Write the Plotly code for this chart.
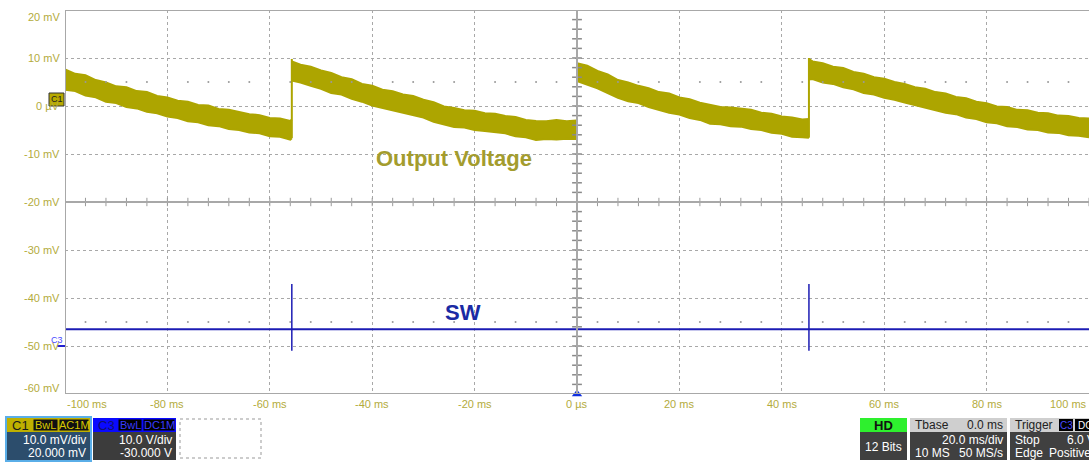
import plotly.graph_objects as go

# ---- C1 output voltage: noisy band envelopes (mV), one list set per sawtooth segment ----
t_a = [-100, -98, -96, -94, -92, -90, -88, -86, -84, -82, -80, -78, -76, -74, -72, -70,
       -68, -66, -64, -62, -60, -58, -56, -55.7]
hi_a = [7.6, 6.7, 6.4, 5.4, 4.9, 4.1, 3.9, 3.1, 2.9, 2.1, 1.8, 1.1, 0.9, 0.2, 0.1, -0.6,
        -0.8, -1.2, -1.7, -1.9, -2.5, -2.6, -3.1, -2.8]
lo_a = [3.4, 3.1, 2.2, 1.8, 0.9, 0.6, -0.2, -0.5, -1.2, -1.5, -2.2, -2.5, -3.2, -3.4, -4.0, -4.2,
        -4.8, -5.0, -5.5, -5.7, -6.3, -6.4, -7.0, -6.7]

t_b = [-55.7, -54, -52, -50, -48, -46, -44, -42, -40, -38, -36, -34, -32, -30, -28, -26,
       -24, -22, -20, -18, -16, -14, -12, -10, -8, -6, -4, -2, -0.1]
hi_b = [9.3, 8.6, 8.2, 7.4, 6.9, 6.0, 5.6, 4.6, 4.2, 3.4, 3.1, 2.4, 2.1, 1.3, 0.8, -0.1,
        -0.4, -0.9, -1.0, -1.5, -1.6, -2.1, -2.3, -2.9, -3.1, -3.2, -2.9, -3.2, -3.0]
lo_b = [5.3, 4.9, 4.2, 3.6, 2.7, 2.4, 1.5, 0.9, 0.1, -0.4, -0.9, -1.4, -2.0, -2.4, -3.3, -3.8,
        -4.4, -4.5, -5.0, -5.2, -5.5, -5.7, -6.3, -6.5, -7.1, -6.9, -7.0, -6.8, -6.9]

t_c = [0, 2, 4, 6, 8, 10, 12, 14, 16, 18, 20, 22, 24, 26, 28, 30, 32, 34, 36, 38, 40, 42, 44, 45.3]
hi_c = [8.9, 8.4, 7.3, 6.6, 5.4, 4.9, 4.2, 3.7, 2.9, 2.6, 1.8, 1.4, 0.7, 0.3, -0.2, -0.3,
        -0.6, -0.8, -1.4, -1.6, -2.2, -2.4, -2.8, -2.7]
lo_c = [5.2, 4.4, 3.7, 2.7, 1.7, 1.0, 0.6, -0.2, -0.8, -1.4, -1.8, -2.5, -2.9, -3.7, -3.8, -4.2,
        -4.3, -4.8, -5.0, -5.6, -5.8, -6.4, -6.5, -6.6]

t_d = [45.3, 46, 48, 50, 52, 54, 56, 58, 60, 62, 64, 66, 68, 70, 72, 74, 76, 78, 80, 82,
       84, 86, 88, 90, 92, 94, 96, 98, 100]
hi_d = [9.8, 9.3, 8.9, 8.2, 7.9, 7.1, 6.7, 6.0, 5.7, 5.0, 4.6, 3.9, 3.6, 2.9, 2.6, 1.9,
        1.6, 0.9, 0.6, -0.1, -0.2, -0.8, -0.9, -1.4, -1.5, -2.0, -2.1, -2.5, -2.6]
lo_d = [5.5, 5.6, 4.9, 4.6, 3.9, 3.5, 2.7, 2.4, 1.7, 1.3, 0.7, 0.2, -0.4, -0.8, -1.4, -1.7,
        -2.4, -2.7, -3.4, -3.6, -4.2, -4.4, -4.9, -5.0, -5.5, -5.6, -6.1, -6.2, -6.5]

# recharge edges (ms, mV)
jump_t = [-55.7, 0, 45.3]
jump_lo = [-6.7, -6.9, -6.6]
jump_hi = [9.8, 9.0, 10.0]

# ---- C3 switch node (V) ----
sw_t = [-100, 100]
sw_base = [3.5, 3.5]
spike_t = [-55.7, 0, 45.3]
spike_hi = [12.9, 7.1, 12.9]
spike_lo = [-1.0, -0.6, -1.0]

# ---- axes ----
x_ticks = [-100, -80, -60, -40, -20, 0, 20, 40, 60, 80, 100]
x_labels = ["-100 ms", "-80 ms", "-60 ms", "-40 ms", "-20 ms", "0 \u00b5s",
            "20 ms", "40 ms", "60 ms", "80 ms", "100 ms"]
y_ticks = [20, 10, 0, -10, -20, -30, -40, -50, -60]
y_labels = ["20 mV", "10 mV", "0 \u00b5V", "-10 mV", "-20 mV", "-30 mV", "-40 mV", "-50 mV", "-60 mV"]

OLIVE = "#ada500"
LABEL = "#b3ab3c"
GRID = "#a8a8a8"
FONT = "Liberation Sans, Arial, sans-serif"

fig = go.Figure()

for t, lo, hi in [(t_a, lo_a, hi_a), (t_b, lo_b, hi_b), (t_c, lo_c, hi_c), (t_d, lo_d, hi_d)]:
    fig.add_trace(go.Scatter(x=t, y=lo, mode="lines", line=dict(color=OLIVE, width=2),
                             hoverinfo="skip", showlegend=False))
    fig.add_trace(go.Scatter(x=t, y=hi, mode="lines", line=dict(color=OLIVE, width=2),
                             fill="tonexty", fillcolor=OLIVE, hoverinfo="skip", showlegend=False))

jx, jy = [], []
for t, a, b in zip(jump_t, jump_lo, jump_hi):
    jx += [t, t, None]
    jy += [a, b, None]
fig.add_trace(go.Scatter(x=jx, y=jy, mode="lines", line=dict(color=OLIVE, width=2),
                         showlegend=False, hoverinfo="skip"))

# SW on its own scale: 10 V/div, 0 V three divisions below centre
fig.add_trace(go.Scatter(x=sw_t, y=sw_base, yaxis="y2", mode="lines",
                         line=dict(color="#1c1cb4", width=2), showlegend=False))
sx, sy = [], []
for t, a, b in zip(spike_t, spike_lo, spike_hi):
    sx += [t, t, None]
    sy += [a, b, None]
fig.add_trace(go.Scatter(x=sx, y=sy, yaxis="y2", mode="lines",
                         line=dict(color="#1c1cb4", width=1.5), showlegend=False))

# graticule decorations: centre-axis ticks and half-division dots
minor_y = [v / 10 for v in range(-600, 201, 20)]
minor_x = [v for v in range(-100, 101, 4)]
fig.add_trace(go.Scatter(x=[0] * len(minor_y), y=minor_y, mode="markers",
                         marker=dict(symbol="line-ew", size=7, line=dict(color="#8a8a8a", width=1.5)),
                         showlegend=False, hoverinfo="skip"))
fig.add_trace(go.Scatter(x=minor_x, y=[-20] * len(minor_x), mode="markers",
                         marker=dict(symbol="line-ns", size=6, line=dict(color="#9a9a9a", width=1)),
                         showlegend=False, hoverinfo="skip"))
dot_x = [v for v in range(-96, 97, 4) if v % 20 != 0]
fig.add_trace(go.Scatter(x=dot_x * 2, y=[5] * len(dot_x) + [-45] * len(dot_x), mode="markers",
                         marker=dict(size=2, color="#9a9a9a"), showlegend=False, hoverinfo="skip"))

# trigger marker
fig.add_trace(go.Scatter(x=[0], y=[-60], mode="markers", cliponaxis=False,
                         marker=dict(symbol="triangle-up", size=9, color="#1030e0"),
                         showlegend=False, hoverinfo="skip"))

shapes = [
    dict(type="line", xref="x", yref="y", x0=0, x1=0, y0=-60, y1=20, line=dict(color=GRID, width=2)),
    dict(type="line", xref="x", yref="y", x0=-100, x1=100, y0=-20, y1=-20, line=dict(color=GRID, width=2)),
    dict(type="line", xref="x", yref="y", x0=-100, x1=100, y0=20, y1=20, line=dict(color=GRID, width=2)),
    dict(type="line", xref="x", yref="y", x0=-100, x1=100, y0=-60, y1=-60, line=dict(color=GRID, width=2)),
    dict(type="line", xref="x", yref="y", x0=-100, x1=-100, y0=-60, y1=20, line=dict(color=GRID, width=2)),
]

annotations = []
for i, (v, s) in enumerate(zip(x_ticks, x_labels)):
    anchor = "left" if i == 0 else ("right" if i == len(x_ticks) - 1 else "center")
    annotations.append(dict(x=v, y=-60, xref="x", yref="y", text=s, showarrow=False,
                            xanchor=anchor, yanchor="top", yshift=-2,
                            font=dict(family=FONT, size=11, color=LABEL)))
for i, (v, s) in enumerate(zip(y_ticks, y_labels)):
    shift = -7 if i == 0 else (6 if i == len(y_ticks) - 1 else 0)
    annotations.append(dict(x=0, y=v, xref="paper", yref="y", text=s, showarrow=False,
                            xanchor="right", yanchor="middle", xshift=-3, yshift=shift,
                            font=dict(family=FONT, size=11, color=LABEL)))

annotations += [
    dict(x=-24, y=-11, xref="x", yref="y", text="<b>Output Voltage</b>", showarrow=False,
         font=dict(family=FONT, size=22, color="#a39c2e")),
    dict(x=-22.3, y=-43.1, xref="x", yref="y", text="<b>SW</b>", showarrow=False,
         font=dict(family=FONT, size=22, color="#1a2aa4")),
]


def px(x):
    return (x - 65) / 1024


def py(y):
    return (394 - y) / 384


def box(x0, x1, y0, y1, fill, line=None):
    shapes.append(dict(type="rect", xref="paper", yref="paper", x0=px(x0), x1=px(x1),
                       y0=py(y1), y1=py(y0), fillcolor=fill,
                       line=line if line else dict(width=0), layer="above"))


def text(x, y, s, anchor="left", color="white", size=12, bold=False):
    annotations.append(dict(x=px(x), y=py(y), xref="paper", yref="paper",
                            text=("<b>%s</b>" % s) if bold else s, showarrow=False,
                            xanchor=anchor, yanchor="middle",
                            font=dict(family=FONT, size=size, color=color)))


# channel markers on the left edge
box(49, 64, 93, 106, "#b8aa00", dict(color="#333333", width=1))
text(56.5, 99.5, "C1", "center", "#222222", 9)
text(57, 340, "C3", "center", "#4a4aff", 9)
shapes.append(dict(type="line", xref="paper", yref="paper", x0=px(57), x1=px(65),
                   y0=py(346), y1=py(346), line=dict(color="#2020d0", width=2)))

# status bar: C1
box(6, 91, 417, 461, "rgba(0,0,0,0)", dict(color="#5aaee8", width=2))
box(7, 90, 418, 432, "#bfb000")
text(10, 425, "C1", "left", "#1a1a1a", 13)
box(33, 58, 419, 431, "#111111", dict(color="#bfb000", width=1))
text(45.5, 425, "BwL", "center", "#d8c800", 11)
box(59, 89, 419, 431, "#111111", dict(color="#bfb000", width=1))
text(74, 425, "AC1M", "center", "#d8c800", 11)
box(7, 90, 432, 460, "#2c4d6c")
text(88, 440, "10.0 mV/div", "right")
text(88, 453, "20.000 mV", "right")

# status bar: C3
box(93, 176, 418, 432, "#0a0aff")
text(96, 425, "C3", "left", "#101070", 13)
box(118, 142, 419, 431, "#000000", dict(color="#0a0aff", width=1))
text(130, 425, "BwL", "center", "#3a3aff", 11)
box(143, 175, 419, 431, "#000000", dict(color="#0a0aff", width=1))
text(159, 425, "DC1M", "center", "#3a3aff", 11)
box(93, 176, 432, 460, "#3c3c3c")
text(174, 440, "10.0 V/div", "right")
text(174, 453, "-30.000 V", "right")

box(180, 261, 419, 458, "rgba(0,0,0,0)", dict(color="#999999", width=1, dash="dot"))

# status bar: acquisition
box(860, 907, 418, 432, "#2ef02e")
text(883.5, 425, "HD", "center", "#111111", 13, True)
box(860, 907, 432, 460, "#404040")
text(883.5, 447, "12 Bits", "center")

box(910, 1007, 418, 432, "#cfcfcf")
text(913, 425, "Tbase", "left", "#222222")
text(1005, 425, "0.0 ms", "right", "#222222")
box(910, 1007, 432, 460, "#404040")
text(1005, 440, "20.0 ms/div", "right")
text(913, 453, "10 MS", "left")
text(1005, 453, "50 MS/s", "right")

box(1010, 1090, 418, 432, "#cfcfcf")
text(1013, 425, "Trigger", "left", "#222222")
box(1059, 1073, 419, 431, "#000000")
text(1066, 425, "C3", "center", "#4a4aff", 10)
box(1075, 1090, 419, 431, "#000000")
text(1076, 425, "DC", "left", "#ffffff", 10)
box(1010, 1090, 432, 460, "#404040")
text(1013, 440, "Stop", "left")
text(1097, 440, "6.0 V", "right")
text(1013, 453, "Edge", "left")
text(1093, 453, "Positive", "right")

fig.update_layout(
    width=1089, height=462,
    margin=dict(l=65, r=0, t=10, b=68),
    paper_bgcolor="white", plot_bgcolor="white",
    font=dict(family=FONT),
    xaxis=dict(range=[-100, 100], dtick=20, showgrid=True, gridcolor=GRID, griddash="dot",
               gridwidth=1, zeroline=False, showticklabels=False, showline=False, fixedrange=True),
    yaxis=dict(range=[-60, 20], dtick=10, showgrid=True, gridcolor=GRID, griddash="dot",
               gridwidth=1, zeroline=False, showticklabels=False, showline=False, fixedrange=True),
    yaxis2=dict(range=[-10, 70], overlaying="y", showgrid=False, zeroline=False,
                showticklabels=False, visible=False),
    shapes=shapes,
    annotations=annotations,
    showlegend=False,
)

# drop the default page margin so the 1089x462 figure fills the window exactly
fig.write_html("out.html", config={"displayModeBar": False},
               post_script="document.body.style.margin='0';document.body.style.overflow='hidden';")
